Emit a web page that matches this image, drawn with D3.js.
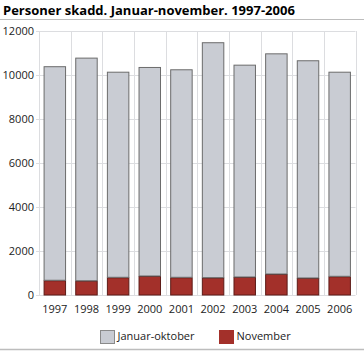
<!DOCTYPE html>
<html><head><meta charset="utf-8">
<script src="https://cdn.jsdelivr.net/npm/d3@7"></script>
<style>body{margin:0;background:#fff}svg{display:block}</style>
</head><body>
<script>
const years = ["1997","1998","1999","2000","2001","2002","2003","2004","2005","2006"];
const januarOktober = [9730, 10140, 9345, 9500, 9455, 10700, 9650, 10030, 9895, 9300];
const november = [670, 650, 805, 865, 805, 790, 820, 955, 775, 850];
const yTicks = [0, 2000, 4000, 6000, 8000, 10000, 12000];
const seriesNames = ["Januar-oktober", "November"];
const colors = {"Januar-oktober": "#c9ccd3", "November": "#a3302a"};
const strokes = {"Januar-oktober": "#6b6b6b", "November": "#5c1b17"};

const W = 364, H = 353;
const m = {left: 39, right: 8.5, top: 31, bottom: 58};
const svg = d3.select("body").append("svg").attr("width", W).attr("height", H);
const font = "'Open Sans', sans-serif";

svg.append("text").attr("x", 3).attr("y", 14.5).attr("font-family", font)
  .attr("font-weight", "bold").attr("font-size", 13).attr("fill", "#000")
  .text("Personer skadd. Januar-november. 1997-2006");
svg.append("line").attr("x1", 0).attr("x2", W).attr("y1", 19.5).attr("y2", 19.5)
  .attr("stroke", "#bdbdbd").attr("stroke-width", 1);

const x = d3.scaleBand().domain(years).range([m.left, W - m.right]).paddingInner(0.29).paddingOuter(0.145);
const y = d3.scaleLinear().domain([0, 12000]).range([H - m.bottom, m.top]);

// grid
const xEdges = d3.scaleBand().domain(years).range([m.left, W - m.right]);
const g = svg.append("g");
g.selectAll("line.h").data(yTicks).join("line")
  .attr("x1", m.left - 3).attr("x2", W - m.right)
  .attr("y1", d => Math.round(y(d)) + 0.5).attr("y2", d => Math.round(y(d)) + 0.5)
  .attr("stroke", "#dcdde0");
const vlines = years.map(d => xEdges(d)).concat([W - m.right]);
g.selectAll("line.v").data(vlines).join("line")
  .attr("x1", d => Math.round(d) + 0.5).attr("x2", d => Math.round(d) + 0.5)
  .attr("y1", y(12000)).attr("y2", y(0))
  .attr("stroke", "#dcdde0");

// stack
const data = years.map((yr, i) => ({year: yr, "November": november[i], "Januar-oktober": januarOktober[i]}));
const stack = d3.stack().keys(["November", "Januar-oktober"])(data);
svg.append("g").selectAll("g").data(stack).join("g")
  .each(function(s) {
    d3.select(this).selectAll("rect").data(s).join("rect")
      .attr("x", d => x(d.data.year) + 0.5)
      .attr("width", x.bandwidth() - 1)
      .attr("y", d => y(d[1]) + 0.5)
      .attr("height", d => y(d[0]) - y(d[1]) - 0.5)
      .attr("fill", colors[s.key])
      .attr("stroke", strokes[s.key]).attr("stroke-width", 1);
  });

// axes
const ya = svg.append("g").attr("transform", `translate(${m.left},0)`)
  .call(d3.axisLeft(y).tickValues(yTicks).tickFormat(d3.format("d")).tickSize(0).tickPadding(5));
ya.select(".domain").remove();
ya.selectAll("text").attr("font-family", font).attr("font-size", 11).attr("fill", "#222");

const xa = svg.append("g").attr("transform", `translate(0,${H - m.bottom})`)
  .call(d3.axisBottom(x).tickSize(0).tickPadding(10));
xa.select(".domain").remove();
xa.selectAll("text").attr("font-family", font).attr("font-size", 11).attr("fill", "#222");

// legend
const legX = [100, 219];
const lg = svg.append("g");
seriesNames.forEach((n, i) => {
  lg.append("rect").attr("x", legX[i] + 0.5).attr("y", 330.5).attr("width", 14).attr("height", 13)
    .attr("fill", colors[n]).attr("stroke", n === "November" ? "#a3302a" : "#8a8a8a");
  lg.append("text").attr("x", legX[i] + 17.5).attr("y", 339.5).attr("font-family", font)
    .attr("font-size", 11).attr("fill", "#222").text(n);
});
svg.append("line").attr("x1", 0).attr("x2", W).attr("y1", 349.5).attr("y2", 349.5)
  .attr("stroke", "#bdbdbd").attr("stroke-width", 1.5);
</script>
</body></html>
